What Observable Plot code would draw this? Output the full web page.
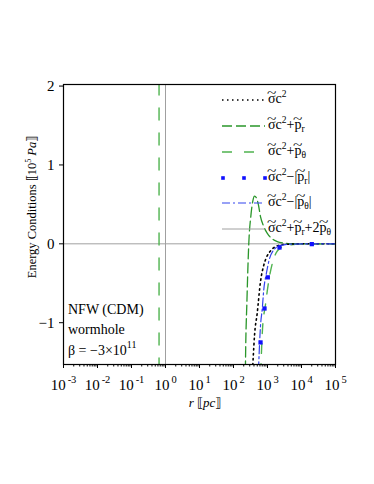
<!DOCTYPE html>
<html><head><meta charset="utf-8">
<script src="https://cdn.jsdelivr.net/npm/d3@7"></script>
<script src="https://cdn.jsdelivr.net/npm/@observablehq/plot@0.6"></script>
<style>
body{margin:0;background:#fff;}
#wrap{position:relative;width:374px;height:484px;font-family:"Liberation Serif","Times New Roman",serif;color:#000;}
.ov{position:absolute;white-space:nowrap;line-height:1;}
.leg{font-size:14px;}
.leg sub{font-size:9.5px;vertical-align:-3px;line-height:0;}
.leg sup{font-size:9.5px;vertical-align:6px;line-height:0;}
.tl{position:relative;display:inline-block;}
.tl::after{content:"~";position:absolute;left:0;right:0;top:-0.44em;text-align:center;font-size:0.95em;transform:scaleX(1.3);}
</style>
</head><body>
<div id="wrap"></div>
<script>
// ---- data (r in pc, value in 10^5 Pa) ----
const sigmaR   = [363, 379, 417, 498, 622, 778, 935, 1225, 1718, 3162, 10000, 100000];
const sigmaV   = [-1.6, -1.45, -1.15, -0.88, -0.48, -0.27, -0.17, -0.09, -0.035, -0.008, 0, 0];
const prR      = [215, 225, 249, 282, 327, 375, 415, 474, 543, 622, 762, 977, 1312, 1928, 2951, 4742, 100000];
const prV      = [-2.5, -1.53, -0.71, 0.01, 0.37, 0.555, 0.605, 0.58, 0.49, 0.344, 0.227, 0.135, 0.07, 0.029, 0.009, 0.0015, 0];
const ptR      = [603, 644, 713, 873, 1107, 1403, 1968, 3388, 9333, 100000];
const ptV      = [-1.9, -1.53, -1.08, -0.77, -0.45, -0.24, -0.088, -0.025, -0.004, 0];
const ptBranchR = [0.646, 0.646];
const ptBranchV = [-1.6, 2.1];
const mprR     = [624, 817, 1021, 2254, 20090];
const mprV     = [-1.25, -0.82, -0.425, -0.047, -0.004];
const mptR     = [525, 555, 622, 698, 778, 935, 1091, 1531, 2512, 5012, 100000];
const mptV     = [-1.8, -1.5, -1.043, -0.832, -0.58, -0.366, -0.223, -0.076, -0.02, -0.003, 0];
const sumLevel = [0];
const sumPoleR = [1];
const xTicks = [1e-3, 1e-2, 1e-1, 1, 10, 100, 1e3, 1e4, 1e5];
const yTicks = [-1, 0, 1, 2];

const zip = (R, V) => R.map((r, i) => ({r, v: V[i]}));
const minorTicks = [];
for (let k = -3; k < 5; k++) for (let m = 2; m <= 9; m++) minorTicks.push(m * Math.pow(10, k));

const darkGreen = "#2a962a", lightGreen = "#4fb34f", blue = "#1010ff", blue2 = "#3344ee", gray = "#a0a0a0";

const chart = Plot.plot({
  width: 374, height: 484,
  marginLeft: 63, marginRight: 39, marginTop: 84, marginBottom: 120,
  style: {fontFamily: "Liberation Serif, serif", fontSize: "15px", background: "white", color: "black", overflow: "visible"},
  x: {type: "log", domain: [1e-3, 1e5]},
  y: {domain: [-1.53, 2.02]},
  marks: [
    Plot.ruleY(sumLevel, {stroke: gray, strokeWidth: 1}),
    Plot.ruleX(sumPoleR, {stroke: gray, strokeWidth: 1}),
    Plot.line(zip(ptBranchR, ptBranchV), {x: "r", y: "v", stroke: lightGreen, strokeWidth: 1.4, strokeDasharray: "12 13", clip: true}),
    Plot.line(zip(prR, prV), {x: "r", y: "v", stroke: darkGreen, strokeWidth: 1.3, strokeDasharray: "10 4", curve: "monotone-x", clip: true}),
    Plot.line(zip(ptR, ptV), {x: "r", y: "v", stroke: lightGreen, strokeWidth: 1.4, strokeDasharray: "10 10", curve: "monotone-x", clip: true}),
    Plot.line(zip(sigmaR, sigmaV), {x: "r", y: "v", stroke: "black", strokeWidth: 1.6, strokeDasharray: "1.5 3.5", curve: "monotone-x", clip: true}),
    Plot.line(zip(mptR, mptV), {x: "r", y: "v", stroke: blue2, strokeWidth: 1.2, strokeDasharray: "8 3 2 3", curve: "monotone-x", clip: true}),
    Plot.dot(zip(mprR, mprV), {x: "r", y: "v", symbol: "square", r: 2.4, fill: blue, stroke: "none", clip: true}),
    Plot.frame({stroke: "black", strokeWidth: 1.2}),
    Plot.axisX({ticks: minorTicks, tickFormat: () => "", tickSize: 2.5, label: null}),
    Plot.axisX({ticks: xTicks, tickSize: 4, tickPadding: 11, label: null,
      tickFormat: d => "10|" + Math.round(Math.log10(d))}),
    Plot.axisY({ticks: yTicks, tickSize: 4, tickPadding: 5, label: null,
      tickFormat: d => d < 0 ? "\u2212" + (-d) : String(d)})
  ]
});

// superscript exponents on x tick labels
d3.select(chart).selectAll("text").each(function() {
  const t = this.textContent;
  if (t.includes("|")) {
    const [base, e] = t.split("|");
    const s = d3.select(this);
    s.text(base);
    s.append("tspan").attr("dy", "-7").attr("dx", "2").attr("font-size", "10.5px").text(e < 0 ? "-" + (-e) : e);
  }
});

const wrap = document.getElementById("wrap");
wrap.appendChild(chart);
chart.style.position = "absolute"; chart.style.left = "0"; chart.style.top = "0";

function ov(html, x, y, cls, extra) {
  const d = document.createElement("div");
  d.className = "ov " + (cls || "");
  d.innerHTML = html;
  d.style.left = x + "px"; d.style.top = y + "px";
  if (extra) Object.assign(d.style, extra);
  wrap.appendChild(d);
  return d;
}

// y-axis label (rotated)
ov('Energy Conditions &#x27E6;10<sup style="font-size:8px;vertical-align:5px;line-height:0">5</sup> <i>Pa</i>&#x27E7;', 32, 207, "",
   {fontSize: "12.5px", transform: "translate(-50%,-50%) rotate(-90deg)"});
// x-axis label
ov('<i>r</i> &#x27E6;<i>pc</i>&#x27E7;', 205, 402, "", {fontSize: "13px", transform: "translate(-50%,-50%)"});

// annotation
ov('NFW (CDM)', 68, 303, "", {fontSize: "14px"});
ov('wormhole', 68, 323, "", {fontSize: "14px"});
ov('\u03B2 = \u22123\u00D710<sup style="font-size:10px;vertical-align:7px;line-height:0">11</sup>', 68, 344, "", {fontSize: "14px"});

// legend
const S = '<span class="tl">\u03C3</span>c<sup>2</sup>';
const P = '<span class="tl">p</span>';
const legendLabels = [
  S,
  S + "+" + P + "<sub>r</sub>",
  S + "+" + P + "<sub>\u03B8</sub>",
  S + "\u2212|" + P + "<sub>r</sub>|",
  S + "\u2212|" + P + "<sub>\u03B8</sub>|",
  S + "+" + P + "<sub>r</sub>+2" + P + "<sub>\u03B8</sub>"
];
const legendY = [100, 126, 152, 178, 203, 229];
const NS = "http://www.w3.org/2000/svg";
const lsvg = document.createElementNS(NS, "svg");
lsvg.setAttribute("width", 374); lsvg.setAttribute("height", 484);
lsvg.style.position = "absolute"; lsvg.style.left = "0"; lsvg.style.top = "0";
wrap.appendChild(lsvg);
const styles = [
  {stroke: "black", w: 1.6, dash: "1.5 3.5"},
  {stroke: darkGreen, w: 1.3, dash: "10 4"},
  {stroke: lightGreen, w: 1.4, dash: "10 12"},
  null,
  {stroke: blue2, w: 1.2, dash: "8 3 2 3"},
  {stroke: gray, w: 1, dash: null}
];
legendY.forEach((y, i) => {
  if (styles[i]) {
    const l = document.createElementNS(NS, "line");
    l.setAttribute("x1", 222); l.setAttribute("x2", 265); l.setAttribute("y1", y); l.setAttribute("y2", y);
    l.setAttribute("stroke", styles[i].stroke); l.setAttribute("stroke-width", styles[i].w);
    if (styles[i].dash) l.setAttribute("stroke-dasharray", styles[i].dash);
    lsvg.appendChild(l);
  } else {
    [223, 244, 265].forEach(x => {
      const r = document.createElementNS(NS, "rect");
      r.setAttribute("x", x - 1.8); r.setAttribute("y", y - 1.8); r.setAttribute("width", 3.6); r.setAttribute("height", 3.6);
      r.setAttribute("fill", blue); lsvg.appendChild(r);
    });
  }
  ov(legendLabels[i], 268, y - 8, "leg");
});
</script>
</body></html>
